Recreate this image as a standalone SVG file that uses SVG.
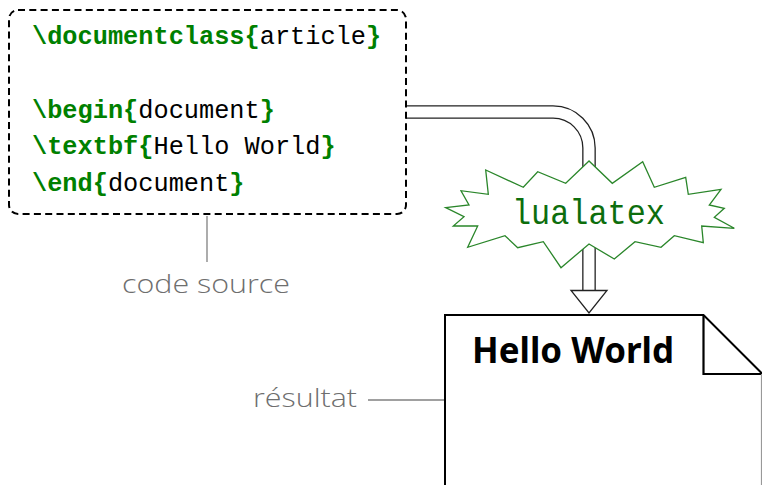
<svg xmlns="http://www.w3.org/2000/svg" width="762" height="485" viewBox="0 0 762 485">
<style>
.code{font-family:"Liberation Mono","DejaVu Sans Mono",monospace;font-size:25.3px;fill:#000}
.cmd{fill:#008000;font-weight:bold}
.lbl{font-family:"Open Sans","Noto Sans",sans-serif;font-weight:300;font-size:26px;fill:#6e6e6e}
.lead{stroke:#808080;stroke-width:1.3;fill:none}
</style>
<rect width="762" height="485" fill="#fff"/>
<g id="connectors">
  <path d="M406,112 H553 A36,36 0 0 1 589,148 V291" fill="none" stroke="#222" stroke-width="13.6"/>
  <path d="M404,112 H553 A36,36 0 0 1 589,148 V292" fill="none" stroke="#fff" stroke-width="11"/>
  <polygon points="571,290.5 607,290.5 589,313" fill="#fff" stroke="#222" stroke-width="1.3"/>
  <line class="lead" x1="207" y1="216" x2="207" y2="262"/>
  <line class="lead" x1="368" y1="400" x2="445" y2="400"/>
</g>
<g id="code">
  <rect x="9" y="10" width="397" height="204" rx="9" fill="none" stroke="#000" stroke-width="2" stroke-dasharray="7 4.3"/>
  <text class="code" x="32" y="44"><tspan class="cmd">\documentclass{</tspan>article<tspan class="cmd">}</tspan></text>
  <text class="code" x="32" y="117.5"><tspan class="cmd">\begin{</tspan>document<tspan class="cmd">}</tspan></text>
  <text class="code" x="32" y="154"><tspan class="cmd">\textbf{</tspan>Hello World<tspan class="cmd">}</tspan></text>
  <text class="code" x="32" y="190.5"><tspan class="cmd">\end{</tspan>document<tspan class="cmd">}</tspan></text>
</g>
<g id="code-label">
  <text class="lbl" x="206" y="293" text-anchor="middle" textLength="168" lengthAdjust="spacingAndGlyphs">code source</text>
</g>
<g id="lualatex">
  <polygon points="589,161 565.7,183.3 537.7,171.7 523.3,187.3 485.7,170 488.3,194.3 461,190.7 469,205 445.7,207.7 464,216.7 453.3,226 477.7,226 467.7,247.3 505,235.7 517.7,247.7 543.3,241.7 561,267.7 589,244 614.3,259 635,241.7 661,247.3 674.3,235.7 703.3,242.7 701.7,226 734.3,228.3 714.3,217.3 724.3,208.3 709.3,205 721,189.3 688.3,194.3 685.7,177.3 654.3,187.3 642.7,161.7 612.3,183.3" fill="#fff" stroke="#2a862a" stroke-width="1.3" stroke-linejoin="miter"/>
  <text x="588.5" y="224" text-anchor="middle" font-family="Liberation Mono, DejaVu Sans Mono, monospace" font-size="35" fill="#0d6e0d" textLength="153" lengthAdjust="spacingAndGlyphs">lualatex</text>
</g>
<g id="result">
  <path d="M445,487 V315 H703.5 L762,373.5" fill="#fff" stroke="#000" stroke-width="2"/>
  <path d="M703.5,315 V374 H762" fill="none" stroke="#000" stroke-width="2.2"/>
  <line x1="761.5" y1="374" x2="761.5" y2="485" stroke="#999" stroke-width="1.2"/>
  <text x="472" y="363" font-family="Noto Sans, Open Sans, sans-serif" font-weight="bold" font-size="35" fill="#000" textLength="202" lengthAdjust="spacingAndGlyphs">Hello World</text>
</g>
<g id="result-label">
  <text class="lbl" x="253" y="407" textLength="104" lengthAdjust="spacingAndGlyphs">résultat</text>
</g>
</svg>
